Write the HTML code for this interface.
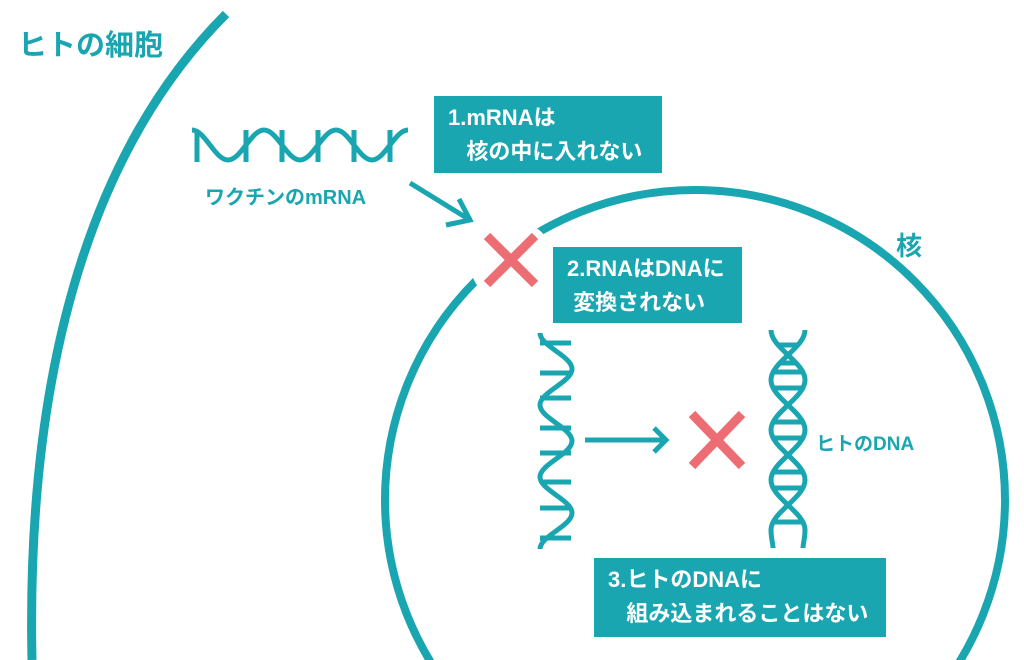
<!DOCTYPE html>
<html><head><meta charset="utf-8"><style>
html,body{margin:0;padding:0;background:#fff;width:1024px;height:660px;overflow:hidden;}
.wrap{position:relative;width:1024px;height:660px;overflow:hidden;font-family:"Liberation Sans","Noto Sans CJK JP",sans-serif;}
.t{position:absolute;color:#1aa6b1;font-weight:bold;white-space:nowrap;}
.box{position:absolute;background:#1aa6b1;color:#fff;font-weight:bold;font-size:22px;line-height:34px;box-sizing:border-box;padding:5px 0 0 14px;white-space:nowrap;}
svg{display:block;}
</style></head><body><div class="wrap">
<svg width="1024" height="660" style="position:absolute;left:0;top:0">
<g fill="none" stroke="#1aa6b1" stroke-linecap="butt">
<path d="M226,14 C110,130 25,330 32,660" stroke-width="9"/>
<circle cx="695" cy="500" r="310" stroke-width="8"/>
</g>
<circle cx="512" cy="262" r="42" fill="#fff"/>
<g fill="none" stroke="#1aa6b1" stroke-width="5">
<path d="M192,130 C205,130 215,160 228,160 C241,160 251,130 264,130 C277,130 287,160 300,160 C313,160 323,130 336,130 C349,130 359,160 372,160 C385,160 395,130 408,130"/>
<path d="M197,130V162 M246,130V162 M282,130V162 M318,130V162 M354,130V162 M390,130V162"/>
<path d="M540,333 C540,346 572,356 572,369 C572,382 540,392 540,405 C540,418 572,428 572,441 C572,454 540,464 540,477 C540,490 572,500 572,513 C572,526 540,536 540,549"/>
<path d="M540,343H571 M540,373H571 M540,398H571 M540,428H571 M540,453H571 M540,482H571 M540,508H571 M540,538H571"/>
<path d="M771,330 C771,348 805,362 805,380 C805,398 771,412 771,430 C771,448 805,462 805,480 C805,498 771,512 771,530 C771,538 773,544 773,548"/>
<path d="M805,330 C805,348 771,362 771,380 C771,398 805,412 805,430 C805,448 771,462 771,480 C771,498 805,512 805,530 C805,538 803,544 803,548"/>
<path d="M774,372H802 M774,388H802 M774,422H802 M774,438H802 M774,472H802 M774,488H802 M774,522H802 M779,345H797 M779,363H797"/>
<path d="M410,183 L470,220 M446,225 L470,220 L459,199"/>
<path d="M585,440 H665 M654,428 L666,440 L654,452"/>
</g>
<g stroke="#ec6e74" stroke-width="9">
<path d="M487,236 L535,284 M535,236 L487,284"/>
<path d="M692,414 L742,466 M742,414 L692,466"/>
</g>
</svg>
<div class="t" style="left:18px;top:22px;font-size:29px;">ヒトの細胞</div>
<div class="t" style="left:205px;top:181px;font-size:20px;">ワクチンのmRNA</div>
<div class="t" style="left:896px;top:226px;font-size:26px;">核</div>
<div class="t" style="left:816px;top:429px;font-size:19px;">ヒトのDNA</div>
<div class="box" style="left:434px;top:96px;width:228px;height:77px;">1.mRNAは<br>&nbsp;&nbsp;&nbsp;核の中に入れない</div>
<div class="box" style="left:553px;top:247px;width:189px;height:76px;">2.RNAはDNAに<br>&nbsp;変換されない</div>
<div class="box" style="left:594px;top:558px;width:292px;height:79px;">3.ヒトのDNAに<br>&nbsp;&nbsp;&nbsp;組み込まれることはない</div>
</div></body></html>
